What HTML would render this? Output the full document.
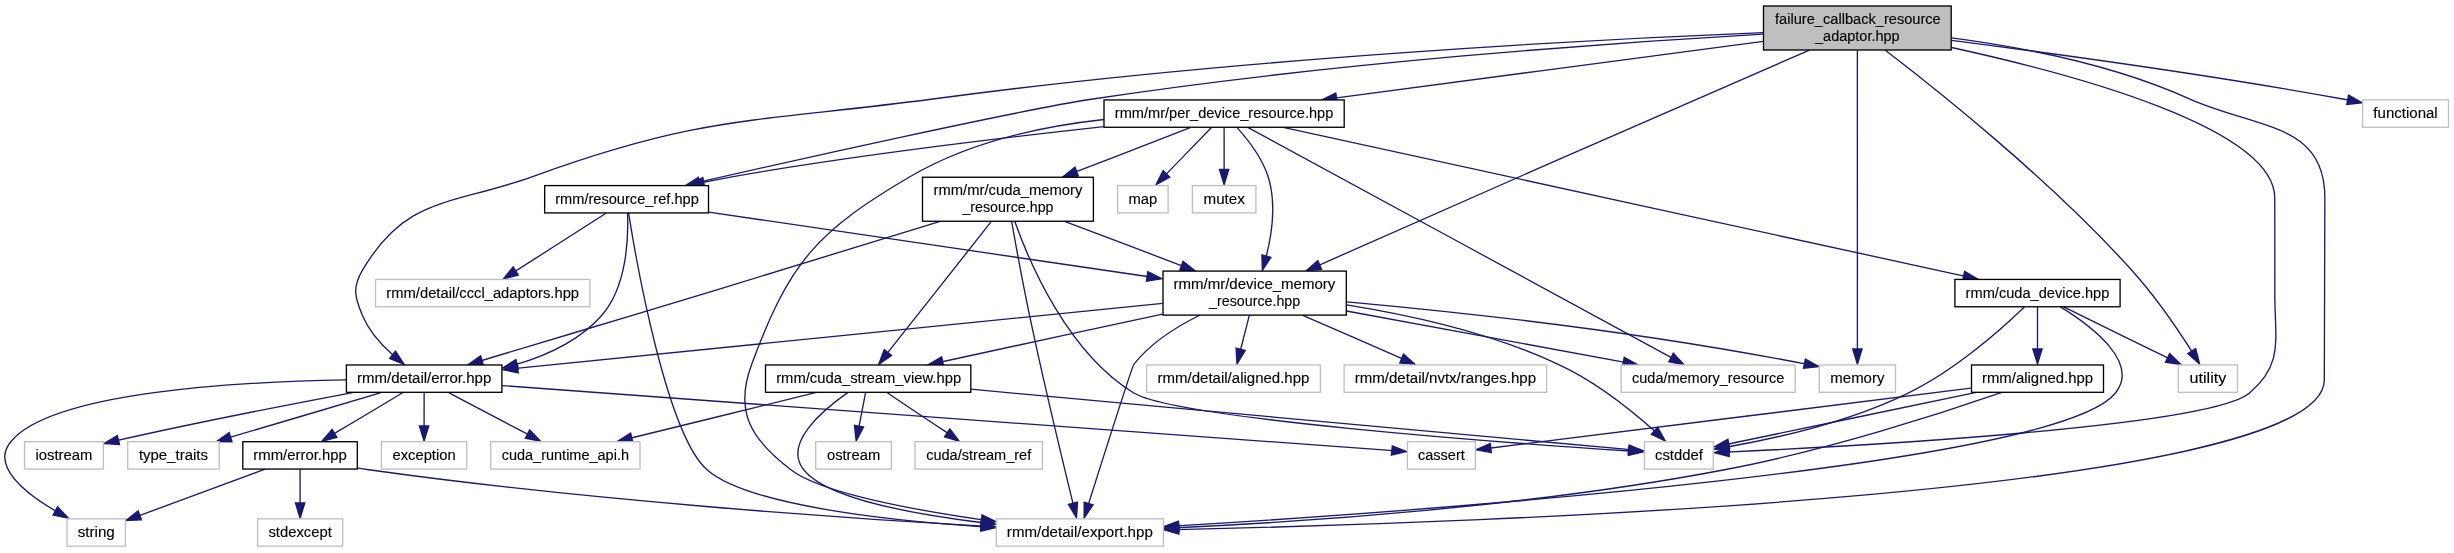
<!DOCTYPE html>
<html><head><meta charset="utf-8"><title>failure_callback_resource_adaptor.hpp</title>
<style>html,body{margin:0;padding:0;background:#fff;}svg{display:block;}text{font-family:"Liberation Sans",sans-serif;font-size:14px;fill:#000;stroke:#000;stroke-width:0.12px;}svg{will-change:transform;}</style></head><body>
<svg width="2454" height="553" viewBox="0 0 2454 553">
<rect width="2454" height="553" fill="#fff"/>
<g fill="none" stroke="#191970" stroke-width="1.333">
<path d="M1762.94,32.63C1594.96,39.36 1233.42,58.19 930.98,99.28 752.19,122.7 702.17,115.05 532.64,176.55 451.43,205.71 406.13,195.61 362.36,270.43 352.16,287.89 354.76,297.06 362.55,315.77 369.06,331.41 381.62,345.16 393.72,355.69"/>
<path d="M1951.49,37.84C2020.09,46.87 2114.01,64.71 2190.47,99.28 2258.17,128.86 2325.07,123.2 2324.85,197.92 2324.85,197.92 2324.85,197.92 2324.31,379.98 2323.96,494.65 1469.68,523.31 1176.91,529.55"/>
<path d="M1809.55,50.05C1700.76,97.77 1434.81,212.77 1318.14,265.56"/>
<path d="M1951.53,47.5C2074.64,74.39 2274.73,128.12 2274.77,197.92 2274.77,197.92 2274.77,197.92 2274.82,294.4 2274.84,339.86 2283.75,364.02 2249.53,393.04 2210.34,426.77 1857.58,446.17 1727.11,452.05"/>
<path d="M1857.35,50.5C1857.36,111.13 1857.39,284.6 1857.4,350.92"/>
<path d="M1763.24,41.3C1648.82,56.61 1456.04,81.95 1334.66,98.12"/>
<path d="M1885.36,50.24C1937.28,90.02 2050.57,180.1 2131.94,270.43 2155.39,296.28 2178.09,329.72 2192.47,352.3"/>
<path d="M1763.13,34.09C1618.12,42.3 1331.77,62.46 1091.19,99.28 1020,110 800,159 697.78,182.45"/>
<path d="M1951.45,40.38C2049.74,53.04 2208.26,74.43 2344.18,99.28 2345.86,99.59 2347.58,99.93 2349.3,100.24"/>
<path d="M402.53,392.7C383.3,404.51 354.92,421.26 332.9,434.31"/>
<path d="M345.98,379.94C238.43,381.71 53.34,391.87 11.39,441.01 -10.04,465.56 25.28,493.54 56.67,511.58"/>
<path d="M448.74,392.7C470.91,404.67 503.81,421.72 529.01,434.88"/>
<path d="M502.23,385.58C702.78,400.46 1231.21,438.82 1393.41,450.63"/>
<path d="M424.13,392.7C424.12,402.72 424.1,416.12 424.09,427.88"/>
<path d="M353.15,392.43C293.13,403.78 204.62,420.48 116.55,440.62"/>
<path d="M381.07,392.53C339.01,405.28 274.84,424.02 228.98,437.66"/>
<path d="M357,467.91C360.99,468.56 364.97,469.17 368.84,469.72 586.95,500.32 845.67,518.35 982.97,526.19"/>
<path d="M300.07,469.38C300.08,479.43 300.1,493.02 300.11,504.93"/>
<path d="M265.02,469.21C229.79,482.42 175.46,502.19 137.99,516.08"/>
<path d="M1162.59,303.34C1002.75,319.53 675.73,352.28 516.01,368.45"/>
<path d="M1199.76,315.27C1176.58,326.58 1151.03,342.68 1133.83,364.33 1132.66,365.76 1102.85,458.62 1088.05,505.3"/>
<path d="M1162.56,314.09C1094.75,328.72 1003.78,348.29 941.01,361.98"/>
<path d="M1346.58,304.93C1408.56,314.91 1490.95,332.7 1558.18,364.33 1595.6,381.3 1632.61,411.4 1655.58,431.75"/>
<path d="M1249.31,315.3C1246.56,326.13 1243.16,339.45 1240.24,350.97"/>
<path d="M1302.77,315.3C1333.72,328.8 1373.55,346.17 1403.24,359.2"/>
<path d="M1346.4,311C1428.01,326.1 1546.28,347.79 1625.12,362.45"/>
<path d="M1346.91,301.79C1454.56,311.59 1637.97,331.16 1806.32,364.21"/>
<path d="M848.03,392.41C822.16,410.47 782.89,443.76 803.72,469.72 825.73,497.99 912.54,514.07 983.04,522.73"/>
<path d="M816.43,392.43C764.94,405.38 685.75,424.52 630.1,438.26"/>
<path d="M887.37,392.7C904.19,404.3 928.88,420.63 948.35,433.53"/>
<path d="M970.82,389.21C1147.22,405.62 1501.29,437.85 1630.39,449.71"/>
<path d="M865.58,392.7C863.69,402.72 861.03,416.12 858.7,427.88"/>
<path d="M1103.91,119.49C1042.54,126.22 968.73,142.11 910.33,176.55 816.43,231.69 789.62,261.74 751.7,364.33 733.99,411.36 750.89,439.59 790.95,469.72 820.71,492.74 911.09,509.44 982.91,519.93"/>
<path d="M1236.96,127.4C1247.62,139.3 1261.96,157.47 1268.06,176.55 1276.47,202.69 1271.98,234.04 1266.02,257.5"/>
<path d="M1247.76,127.42C1326.27,170.34 1578.31,306.67 1672.34,358.07"/>
<path d="M1283.24,127.44C1429.24,159.5 1806.37,241.43 1965.25,276.34"/>
<path d="M1190.8,127.37C1160.04,139.48 1113.46,157.4 1075.01,172.2"/>
<path d="M1103.88,126.63C1003.17,137.7 855.74,155.11 733.32,176.55 723.29,178.31 712.62,180.45 702.04,182.67"/>
<path d="M1211.41,127.56C1199.07,140.46 1180.09,159.89 1165.23,175.1"/>
<path d="M1224.11,127.56C1224.12,139.36 1224.13,156.57 1224.13,171.06"/>
<path d="M2060.51,306.81C2091.47,325.95 2139.99,362.53 2115.48,393.04 2057.49,465.9 1423.1,510.96 1176.8,525.9"/>
<path d="M2024.36,307.02C2002.23,328.43 1955.34,370.39 1908.21,393.04 1849.29,421.86 1774.92,438.52 1727.14,446.99"/>
<path d="M2037.5,307.03C2037.5,318.83 2037.5,336.04 2037.5,350.53"/>
<path d="M2063.75,306.83C2091.93,320.88 2137,342.88 2169.24,358.69"/>
<path d="M2001.84,392.38C1944.28,412.44 1826.94,450.6 1724.52,469.72 1532.27,506.54 1303.71,521.92 1176.9,527.72"/>
<path d="M1970.83,388.13C1849.31,403.53 1594.49,434.92 1488.85,448.26"/>
<path d="M1976.26,392.43C1905.82,407.3 1791.6,430.62 1727.14,444.25"/>
<path d="M940.19,221.3C864.72,244.62 739.07,283.46 630.75,315.77 579.82,331.16 521.76,348.49 480.18,360.99"/>
<path d="M1011.61,221.32C1015.72,244.58 1022.75,283.3 1029.65,315.77 1044.15,384.66 1063.51,464.48 1073.41,505.07"/>
<path d="M1064.54,221.35C1100.59,234.74 1146.29,252.18 1183.22,266.38"/>
<path d="M991.36,221.43C965.11,254.85 914.15,319.2 886.71,353.96"/>
<path d="M1014.92,221.77C1029.61,263.15 1067.94,352.85 1133.82,393.04 1175.65,418.7 1504.79,442.86 1630.41,451.03"/>
<path d="M627.53,213.02C628.55,236.79 627.25,286.84 601.4,315.77 579.34,340.72 546.75,355.58 515.5,364.71"/>
<path d="M628.55,212.92C636.42,262.26 666.88,434.78 707.03,469.72 746.96,505 886.58,520.5 983.14,526.8"/>
<path d="M708.68,212.09C821.61,228.79 1024.94,258.47 1149.06,276.75"/>
<path d="M605.97,213.21C582.01,228.73 542.19,254.09 514.3,271.88"/>
</g>
<g fill="#191970" stroke="#191970" stroke-width="1.333">
<polygon points="395.46,351.06 404.12,364.37 389.64,358.47"/>
<polygon points="1178.82,534.06 1163.9,529.81 1178.66,524.95"/>
<polygon points="1321.55,269.22 1306.11,270.83 1317.8,260.55"/>
<polygon points="1729.3,456.5 1714.27,452.61 1728.87,447.4"/>
<polygon points="1862.06,349.04 1857.4,364.23 1852.73,349.04"/>
<polygon points="1337.18,102.5 1321.81,99.87 1335.81,93.05"/>
<polygon points="2195.71,348.63 2199.64,364.02 2187.81,353.63"/>
<polygon points="700.73,186.63 685.21,185.68 698.44,177.27"/>
<polygon points="2348.56,95.15 2362.22,102.74 2346.76,104.37"/>
<polygon points="336.95,437.46 321.85,441.25 332.14,429.31"/>
<polygon points="57.57,506.71 68.38,518.29 53.13,515.09"/>
<polygon points="529.69,429.91 540.59,441.27 525.31,438.35"/>
<polygon points="1392.33,445.97 1406.57,451.57 1391.31,455.06"/>
<polygon points="428.75,425.95 424.07,441.01 419.42,425.95"/>
<polygon points="119.57,444.68 104.05,443.48 117.36,435.43"/>
<polygon points="232,441.78 216.44,441.55 229.2,432.52"/>
<polygon points="981.44,521.54 995.77,526.91 980.56,530.63"/>
<polygon points="304.78,503.01 300.13,518.14 295.45,503.01"/>
<polygon points="141.5,519.85 125.98,520.54 138.14,510.83"/>
<polygon points="518.21,372.81 502.98,369.72 517.27,363.68"/>
<polygon points="1093.06,504.84 1084.13,517.97 1084.16,502.14"/>
<polygon points="943.62,366.24 928.15,364.84 941.66,356.86"/>
<polygon points="1657.64,427.31 1665.32,441.03 1651.29,434.17"/>
<polygon points="1245.15,350.54 1236.96,364.09 1236.11,348.2"/>
<polygon points="1403.49,354.08 1415.23,364.62 1399.78,362.94"/>
<polygon points="1624.24,357.32 1637.91,364.86 1622.45,366.75"/>
<polygon points="1805.4,359.06 1818.97,366.67 1803.48,368.34"/>
<polygon points="981.86,517.95 995.94,524.19 980.6,527.04"/>
<polygon points="632.85,442.48 617.32,441.54 630.62,433.12"/>
<polygon points="949.9,428.87 959.28,441.22 944.47,436.78"/>
<polygon points="1629.2,445.01 1643.45,450.88 1628.19,454.08"/>
<polygon points="863.59,427 856.17,441.02 854.43,425.39"/>
<polygon points="982.04,514.97 996.06,521.71 980.7,524.23"/>
<polygon points="1270.91,257.37 1262.36,270.47 1261.93,254.78"/>
<polygon points="1673.29,353.18 1684.09,364.68 1668.83,361.65"/>
<polygon points="1964.62,271.21 1978.08,279.24 1962.6,280.61"/>
<polygon points="1078.3,175.96 1062.78,176.92 1074.98,167.19"/>
<polygon points="704.67,186.94 689.22,185.41 702.81,177.54"/>
<polygon points="1169.77,177.15 1156.06,184.75 1163.11,170.52"/>
<polygon points="1228.8,169.42 1224.14,184.61 1219.47,169.42"/>
<polygon points="1178.82,530.35 1163.76,526.67 1178.33,521.25"/>
<polygon points="1729.7,451.17 1714.29,449.12 1728.13,442.19"/>
<polygon points="2042.17,348.89 2037.5,364.08 2032.83,348.89"/>
<polygon points="2169.61,353.54 2180.88,364.58 2165.52,362.22"/>
<polygon points="1178.95,532.19 1163.96,528.3 1178.62,523.09"/>
<polygon points="1491.31,452.55 1476.06,449.83 1490.32,443.51"/>
<polygon points="1729.76,448.37 1714.29,446.87 1727.86,439.32"/>
<polygon points="483.33,365.05 467.77,364.81 480.66,355.79"/>
<polygon points="1077.5,502.09 1076.49,517.89 1068.44,504.37"/>
<polygon points="1183.02,261.29 1195.34,270.89 1179.81,270.14"/>
<polygon points="891.55,355.37 878.68,364.4 884.23,349.51"/>
<polygon points="1629.02,446.37 1643.49,451.88 1628.37,455.47"/>
<polygon points="518.24,368.72 502.71,367.93 515.89,359.59"/>
<polygon points="981.5,522.14 995.96,527.6 980.82,531.22"/>
<polygon points="1147.79,271.64 1161.81,278.66 1146.46,281.13"/>
<polygon points="518.21,275.11 503.21,279.15 513.14,266.95"/>
</g>
<rect x="1763.5" y="6" width="187.7" height="44" fill="#bfbfbf" stroke="#000" stroke-width="1.333"/>
<text x="1857.9" y="24.05" text-anchor="middle" textLength="165.73" lengthAdjust="spacingAndGlyphs">failure_callback_resource</text>
<text x="1857.35" y="40.95" text-anchor="middle" textLength="84.56" lengthAdjust="spacingAndGlyphs">_adaptor.hpp</text>
<rect x="346.4" y="364.98" width="155.5" height="27.33" fill="#fff" stroke="#000" stroke-width="1.333"/>
<text x="424.15" y="383.15" text-anchor="middle" textLength="134.17" lengthAdjust="spacingAndGlyphs">rmm/detail/error.hpp</text>
<rect x="996.3" y="518.84" width="167.1" height="27.33" fill="#fff" stroke="#bfbfbf" stroke-width="1.333"/>
<text x="1079.85" y="537" text-anchor="middle" textLength="145.94" lengthAdjust="spacingAndGlyphs">rmm/detail/export.hpp</text>
<rect x="1163" y="271.1" width="183.3" height="44" fill="#fff" stroke="#000" stroke-width="1.333"/>
<text x="1254.4" y="289.15" text-anchor="middle" textLength="161.94" lengthAdjust="spacingAndGlyphs">rmm/mr/device_memory</text>
<text x="1254.65" y="306.05" text-anchor="middle" textLength="91.11" lengthAdjust="spacingAndGlyphs">_resource.hpp</text>
<rect x="1644.5" y="441.73" width="68.8" height="27.33" fill="#fff" stroke="#bfbfbf" stroke-width="1.333"/>
<text x="1678.9" y="459.9" text-anchor="middle" textLength="47.84" lengthAdjust="spacingAndGlyphs">cstddef</text>
<rect x="1819.3" y="364.98" width="76.2" height="27.33" fill="#fff" stroke="#bfbfbf" stroke-width="1.333"/>
<text x="1857.4" y="383.15" text-anchor="middle" textLength="54.02" lengthAdjust="spacingAndGlyphs">memory</text>
<rect x="1104" y="99.94" width="240.2" height="27.33" fill="#fff" stroke="#000" stroke-width="1.333"/>
<text x="1224.1" y="118.1" text-anchor="middle" textLength="218.43" lengthAdjust="spacingAndGlyphs">rmm/mr/per_device_resource.hpp</text>
<rect x="2178.3" y="364.98" width="59.2" height="27.33" fill="#fff" stroke="#bfbfbf" stroke-width="1.333"/>
<text x="2207.9" y="383.15" text-anchor="middle" textLength="36.76" lengthAdjust="spacingAndGlyphs">utility</text>
<rect x="544.65" y="185.59" width="163.85" height="27.33" fill="#fff" stroke="#000" stroke-width="1.333"/>
<text x="627.03" y="203.75" text-anchor="middle" textLength="143.63" lengthAdjust="spacingAndGlyphs">rmm/resource_ref.hpp</text>
<rect x="2362.6" y="99.94" width="85.9" height="27.33" fill="#fff" stroke="#bfbfbf" stroke-width="1.333"/>
<text x="2405.55" y="118.1" text-anchor="middle" textLength="64.33" lengthAdjust="spacingAndGlyphs">functional</text>
<rect x="242.8" y="441.73" width="114.5" height="27.33" fill="#fff" stroke="#000" stroke-width="1.333"/>
<text x="300.05" y="459.9" text-anchor="middle" textLength="93.47" lengthAdjust="spacingAndGlyphs">rmm/error.hpp</text>
<rect x="67.05" y="518.84" width="58.35" height="27.33" fill="#fff" stroke="#bfbfbf" stroke-width="1.333"/>
<text x="96.22" y="537" text-anchor="middle" textLength="37.12" lengthAdjust="spacingAndGlyphs">string</text>
<rect x="490.7" y="441.73" width="149.3" height="27.33" fill="#fff" stroke="#bfbfbf" stroke-width="1.333"/>
<text x="565.35" y="459.9" text-anchor="middle" textLength="127.31" lengthAdjust="spacingAndGlyphs">cuda_runtime_api.h</text>
<rect x="1407.4" y="441.73" width="68" height="27.33" fill="#fff" stroke="#bfbfbf" stroke-width="1.333"/>
<text x="1441.4" y="459.9" text-anchor="middle" textLength="46.85" lengthAdjust="spacingAndGlyphs">cassert</text>
<rect x="381.4" y="441.73" width="85.3" height="27.33" fill="#fff" stroke="#bfbfbf" stroke-width="1.333"/>
<text x="424.05" y="459.9" text-anchor="middle" textLength="63.19" lengthAdjust="spacingAndGlyphs">exception</text>
<rect x="24.56" y="441.73" width="78.84" height="27.33" fill="#fff" stroke="#bfbfbf" stroke-width="1.333"/>
<text x="63.98" y="459.9" text-anchor="middle" textLength="56.82" lengthAdjust="spacingAndGlyphs">iostream</text>
<rect x="127.7" y="441.73" width="91.5" height="27.33" fill="#fff" stroke="#bfbfbf" stroke-width="1.333"/>
<text x="173.45" y="459.9" text-anchor="middle" textLength="69.06" lengthAdjust="spacingAndGlyphs">type_traits</text>
<rect x="257.6" y="518.84" width="85.1" height="27.33" fill="#fff" stroke="#bfbfbf" stroke-width="1.333"/>
<text x="300.15" y="537" text-anchor="middle" textLength="63.51" lengthAdjust="spacingAndGlyphs">stdexcept</text>
<rect x="765.5" y="364.98" width="205.3" height="27.33" fill="#fff" stroke="#000" stroke-width="1.333"/>
<text x="868.65" y="383.15" text-anchor="middle" textLength="185" lengthAdjust="spacingAndGlyphs">rmm/cuda_stream_view.hpp</text>
<rect x="1146.6" y="364.98" width="173.8" height="27.33" fill="#fff" stroke="#bfbfbf" stroke-width="1.333"/>
<text x="1233.5" y="383.15" text-anchor="middle" textLength="151.73" lengthAdjust="spacingAndGlyphs">rmm/detail/aligned.hpp</text>
<rect x="1344.1" y="364.98" width="202.5" height="27.33" fill="#fff" stroke="#bfbfbf" stroke-width="1.333"/>
<text x="1445.35" y="383.15" text-anchor="middle" textLength="181.31" lengthAdjust="spacingAndGlyphs">rmm/detail/nvtx/ranges.hpp</text>
<rect x="1621.1" y="364.98" width="174.1" height="27.33" fill="#fff" stroke="#bfbfbf" stroke-width="1.333"/>
<text x="1708.15" y="383.15" text-anchor="middle" textLength="152.21" lengthAdjust="spacingAndGlyphs">cuda/memory_resource</text>
<rect x="915" y="441.73" width="127.4" height="27.33" fill="#fff" stroke="#bfbfbf" stroke-width="1.333"/>
<text x="978.7" y="459.9" text-anchor="middle" textLength="105.11" lengthAdjust="spacingAndGlyphs">cuda/stream_ref</text>
<rect x="815.7" y="441.73" width="75.7" height="27.33" fill="#fff" stroke="#bfbfbf" stroke-width="1.333"/>
<text x="853.55" y="459.9" text-anchor="middle" textLength="53.22" lengthAdjust="spacingAndGlyphs">ostream</text>
<rect x="1954.9" y="279.44" width="165.2" height="27.33" fill="#fff" stroke="#000" stroke-width="1.333"/>
<text x="2037.5" y="297.6" text-anchor="middle" textLength="143.73" lengthAdjust="spacingAndGlyphs">rmm/cuda_device.hpp</text>
<rect x="922.5" y="177.25" width="170.9" height="44" fill="#fff" stroke="#000" stroke-width="1.333"/>
<text x="1007.95" y="195.3" text-anchor="middle" textLength="148.83" lengthAdjust="spacingAndGlyphs">rmm/mr/cuda_memory</text>
<text x="1007.95" y="212.2" text-anchor="middle" textLength="91.11" lengthAdjust="spacingAndGlyphs">_resource.hpp</text>
<rect x="1117.6" y="185.59" width="50.5" height="27.33" fill="#fff" stroke="#bfbfbf" stroke-width="1.333"/>
<text x="1142.85" y="203.75" text-anchor="middle" textLength="28.73" lengthAdjust="spacingAndGlyphs">map</text>
<rect x="1192.4" y="185.59" width="63.5" height="27.33" fill="#fff" stroke="#bfbfbf" stroke-width="1.333"/>
<text x="1224.15" y="203.75" text-anchor="middle" textLength="41.24" lengthAdjust="spacingAndGlyphs">mutex</text>
<rect x="1971.5" y="364.98" width="132" height="27.33" fill="#fff" stroke="#000" stroke-width="1.333"/>
<text x="2037.5" y="383.15" text-anchor="middle" textLength="111.03" lengthAdjust="spacingAndGlyphs">rmm/aligned.hpp</text>
<rect x="375.5" y="279.44" width="214.4" height="27.33" fill="#fff" stroke="#bfbfbf" stroke-width="1.333"/>
<text x="482.7" y="297.6" text-anchor="middle" textLength="192.73" lengthAdjust="spacingAndGlyphs">rmm/detail/cccl_adaptors.hpp</text>
</svg>
</body></html>
